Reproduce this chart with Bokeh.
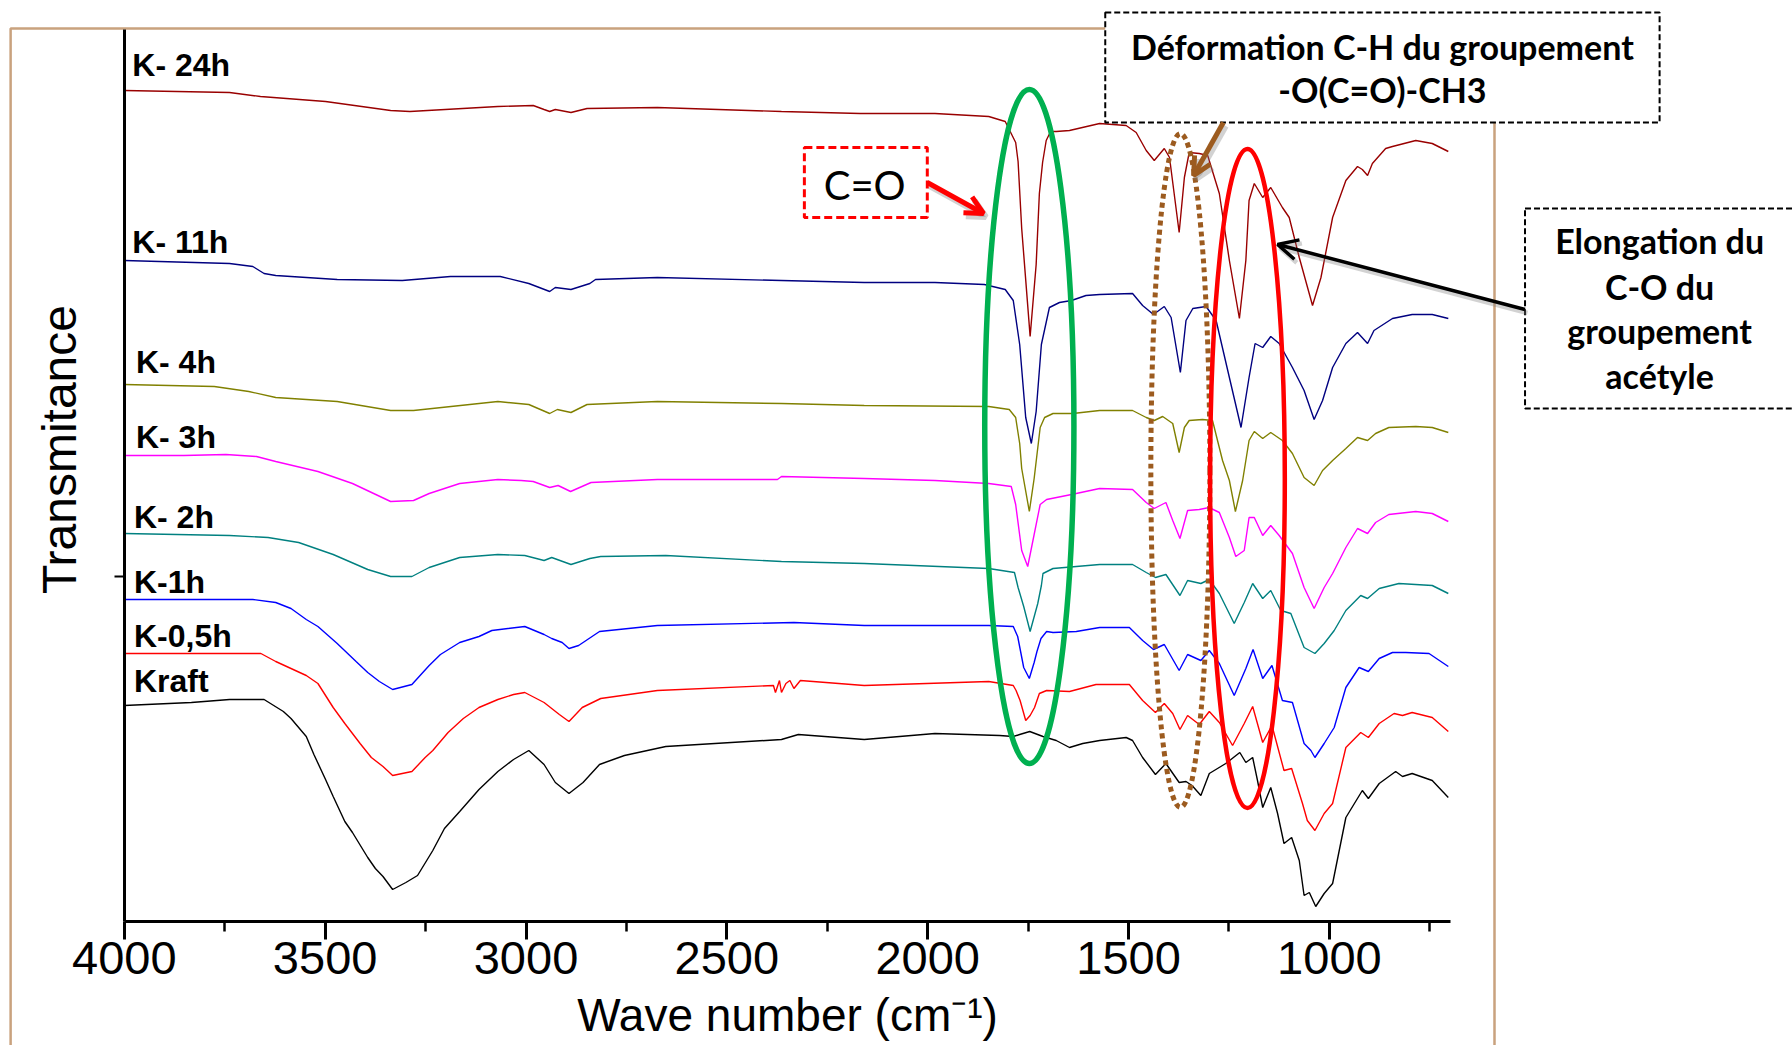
from bokeh.plotting import figure
from bokeh.models import Range1d, LinearAxis, FixedTicker, Arrow, OpenHead
from bokeh.core.properties import value
from bokeh.embed import file_html
from bokeh.resources import INLINE

# ---------------------------------------------------------------------------
# FTIR spectra of kraft paper acetylated for increasing times.
# Wavenumber in cm-1, transmittance in arbitrary units (curves stacked).
# ---------------------------------------------------------------------------
k24h_wn = [4000, 3738, 3661, 3499, 3337, 3289, 3070, 2982, 2955, 2941, 2927, 2888, 2848, 2673, 2364, 2168,
           1982, 1848, 1807, 1781, 1775, 1766, 1745, 1730, 1722, 1714, 1705, 1694, 1680, 1647, 1572, 1506,
           1481, 1456, 1436, 1411, 1398, 1374, 1361, 1349, 1324, 1303, 1274, 1249, 1224, 1208, 1200, 1187,
           1166, 1146, 1117, 1100, 1075, 1042, 1021, 992, 959, 930, 918, 905, 893, 860, 843, 785, 744, 704]
k24h_t = [831, 829, 825, 820, 811, 810, 815, 816, 812, 810, 812, 809, 813, 814, 810, 808,
          808, 805, 800, 779, 760, 693, 585, 657, 728, 759, 781, 790, 790, 791, 798, 796,
          789, 771, 761, 773, 764, 689, 744, 769, 768, 766, 728, 661, 603, 661, 721, 738,
          724, 734, 714, 704, 664, 616, 644, 704, 741, 755, 752, 746, 758, 773, 775, 781, 778, 770]

k11h_wn = [4000, 3738, 3680, 3652, 3623, 3470, 3308, 3188, 3064, 2993, 2941, 2927, 2888, 2841, 2827, 2673,
           2364, 2158, 1982, 1859, 1807, 1787, 1771, 1756, 1742, 1730, 1717, 1697, 1672, 1642, 1606, 1572,
           1490, 1465, 1438, 1411, 1394, 1371, 1357, 1340, 1307, 1282, 1249, 1220, 1200, 1185, 1166, 1146,
           1125, 1092, 1063, 1038, 1017, 992, 959, 930, 905, 889, 843, 794, 744, 704]
k11h_t = [661, 658, 655, 648, 646, 642, 641, 645, 645, 638, 630, 634, 632, 638, 642, 644,
          641, 639, 639, 637, 632, 621, 577, 504, 478, 510, 577, 614, 619, 621, 626, 627,
          628, 616, 607, 615, 604, 549, 601, 613, 615, 601, 544, 494, 544, 578, 574, 585,
          578, 554, 531, 502, 521, 554, 578, 589, 578, 591, 603, 607, 607, 603]

k4h_wn = [4000, 3776, 3690, 3623, 3470, 3337, 3280, 3070, 2993, 2941, 2922, 2888, 2848, 2673, 2364, 2158,
          1848, 1797, 1781, 1771, 1766, 1747, 1735, 1720, 1709, 1688, 1639, 1572, 1490, 1456, 1436, 1415,
          1390, 1374, 1361, 1349, 1316, 1291, 1266, 1249, 1234, 1216, 1200, 1187, 1166, 1146, 1117, 1092,
          1063, 1038, 1017, 992, 959, 930, 905, 885, 852, 785, 744, 704]
k4h_t = [537, 535, 530, 524, 520, 511, 511, 520, 517, 508, 512, 509, 517, 520, 518, 516,
         515, 512, 504, 478, 453, 410, 443, 494, 504, 508, 508, 511, 511, 504, 501, 505,
         498, 469, 494, 501, 502, 501, 461, 441, 410, 441, 481, 490, 483, 489, 481, 468,
         444, 436, 451, 461, 473, 484, 481, 488, 494, 495, 494, 489]

k3h_wn = [4000, 3852, 3747, 3671, 3623, 3518, 3432, 3337, 3280, 3241, 3165, 3070, 3012, 2982, 2941, 2920,
          2889, 2838, 2673, 2374, 2364, 2158, 1982, 1848, 1792, 1781, 1766, 1751, 1735, 1720, 1704, 1642,
          1572, 1490, 1456, 1436, 1407, 1390, 1372, 1353, 1324, 1299, 1274, 1249, 1233, 1212, 1200, 1187,
          1166, 1146, 1125, 1092, 1063, 1038, 1013, 992, 959, 930, 905, 885, 852, 785, 744, 704]
k3h_t = [466, 466, 467, 465, 460, 450, 438, 420, 421, 428, 438, 442, 441, 440, 434, 436,
         430, 439, 442, 442, 445, 443, 441, 438, 435, 417, 371, 355, 387, 417, 422, 427,
         433, 432, 419, 413, 419, 401, 383, 411, 412, 414, 409, 384, 365, 371, 404, 404,
         386, 396, 386, 368, 334, 313, 334, 348, 374, 393, 388, 399, 407, 410, 408, 400]

k2h_wn = [4000, 3738, 3642, 3566, 3480, 3394, 3337, 3284, 3241, 3165, 3070, 3003, 2955, 2936, 2888, 2841,
          2814, 2652, 2364, 2158, 1848, 1784, 1775, 1761, 1745, 1726, 1717, 1713, 1688, 1572, 1490, 1456,
          1433, 1407, 1372, 1353, 1320, 1299, 1274, 1237, 1212, 1191, 1166, 1146, 1121, 1096, 1063, 1036,
          1013, 988, 959, 922, 905, 876, 827, 744, 704]
k2h_t = [388, 386, 384, 379, 367, 352, 345, 345, 354, 364, 367, 366, 361, 364, 357, 363,
         365, 366, 360, 358, 353, 349, 334, 315, 290, 318, 336, 348, 353, 357, 357, 349,
         344, 347, 326, 341, 338, 342, 328, 298, 319, 338, 323, 331, 311, 308, 274, 268,
         278, 291, 311, 326, 323, 333, 338, 336, 328]

k1h_wn = [4000, 3680, 3623, 3585, 3547, 3518, 3470, 3423, 3394, 3365, 3332, 3284, 3241, 3213, 3165, 3117,
          3085, 3003, 2955, 2936, 2910, 2893, 2869, 2817, 2673, 2333, 2158, 1848, 1787, 1776, 1761, 1747,
          1735, 1728, 1718, 1704, 1688, 1630, 1572, 1498, 1465, 1438, 1411, 1374, 1353, 1320, 1299, 1274,
          1237, 1208, 1190, 1166, 1143, 1117, 1092, 1063, 1046, 1036, 1013, 988, 959, 926, 903, 876,
          843, 810, 752, 704]
k1h_t = [322, 322, 319, 313, 302, 295, 278, 260, 249, 240, 232, 237, 256, 267, 279, 285,
         291, 295, 287, 283, 279, 273, 276, 290, 296, 299, 296, 296, 295, 285, 254, 243,
         259, 270, 283, 290, 289, 290, 294, 294, 281, 272, 277, 251, 267, 261, 271, 258,
         226, 253, 272, 243, 256, 221, 219, 178, 171, 164, 178, 194, 234, 254, 250, 263,
         269, 269, 268, 255]

k05h_wn = [4000, 3738, 3660, 3623, 3547, 3518, 3480, 3451, 3413, 3385, 3356, 3332, 3284, 3251, 3232, 3194,
           3156, 3117, 3070, 3031, 3003, 2955, 2917, 2893, 2860, 2814, 2673, 2384, 2379, 2369, 2364, 2353,
           2343, 2333, 2317, 2158, 1848, 1787, 1780, 1770, 1756, 1745, 1734, 1722, 1704, 1647, 1581, 1498,
           1465, 1433, 1411, 1390, 1372, 1353, 1324, 1299, 1274, 1241, 1212, 1191, 1166, 1143, 1113, 1094,
           1067, 1055, 1036, 1013, 992, 959, 922, 903, 876, 839, 818, 794, 744, 704]
k05h_t = [268, 268, 268, 260, 246, 238, 214, 198, 178, 164, 155, 146, 150, 164, 171, 189,
          203, 214, 222, 227, 229, 219, 207, 200, 214, 223, 231, 236, 229, 241, 229, 238,
          241, 233, 241, 236, 240, 236, 231, 221, 201, 206, 214, 228, 231, 230, 237, 237,
          221, 209, 218, 208, 192, 206, 197, 210, 199, 176, 198, 215, 179, 196, 151, 153,
          118, 101, 91, 108, 118, 174, 189, 184, 198, 208, 206, 209, 204, 190]

kraft_wn = [4000, 3833, 3738, 3652, 3604, 3585, 3547, 3528, 3499, 3480, 3451, 3432, 3394, 3375, 3356, 3332,
            3299, 3270, 3232, 3203, 3165, 3117, 3070, 3031, 2993, 2955, 2927, 2893, 2858, 2817, 2755, 2652,
            2364, 2322, 2158, 1982, 1821, 1787, 1771, 1746, 1713, 1680, 1647, 1614, 1572, 1506, 1490, 1465,
            1433, 1407, 1374, 1357, 1342, 1320, 1299, 1258, 1223, 1208, 1191, 1179, 1166, 1146, 1129, 1113,
            1094, 1075, 1063, 1050, 1034, 1013, 992, 984, 959, 918, 903, 876, 835, 818, 794, 744, 704]
kraft_t = [216, 219, 222, 222, 210, 203, 185, 167, 142, 125, 100, 89, 64, 53, 45, 32,
           39, 46, 71, 93, 110, 132, 150, 162, 171, 157, 139, 128, 139, 157, 166, 175,
           182, 187, 182, 188, 186, 185, 187, 190, 185, 181, 174, 178, 181, 184, 181, 164,
           147, 158, 139, 140, 136, 126, 148, 158, 169, 159, 164, 141, 114, 134, 108, 78,
           84, 61, 26, 29, 15, 28, 38, 54, 104, 131, 123, 138, 150, 145, 148, 141, 124]

series_names = ["K- 24h", "K- 11h", "K- 4h", "K- 3h", "K- 2h", "K-1h", "K-0,5h", "Kraft"]
series_wn = [k24h_wn, k11h_wn, k4h_wn, k3h_wn, k2h_wn, k1h_wn, k05h_wn, kraft_wn]
series_t = [k24h_t, k11h_t, k4h_t, k3h_t, k2h_t, k1h_t, k05h_t, kraft_t]
series_colors = ["#990000", "#000080", "#808000", "#FF00FF", "#008080", "#0000FF", "#FF0000", "#000000"]

x_major = [4000, 3500, 3000, 2500, 2000, 1500, 1000]
x_minor = [3750, 3250, 2750, 2250, 1750, 1250, 750]

# curve name tags (anchor at left end of each trace)
tag_x = [3980, 3980, 3971, 3971, 3976, 3976, 3976, 3976]
tag_y = [857, 680, 560, 485, 405, 340, 286, 241]

# ---------------------------------------------------------------------------
SANS = "Liberation Sans"
BOXFONT = "Lato"
TAN = "#C9A27E"
SHADOW = "#7F7F7F"

# horizontal scale: 0.4017 canvas px per cm-1, 4000 cm-1 sits 123.8 px from the left edge
SCALE = 0.4017
LEFT_PAD = 123.8
x_start = 4000 + LEFT_PAD / SCALE
x_end = 4000 - (1792 - LEFT_PAD) / SCALE

p = figure(width=1792, height=1045,
           x_range=Range1d(x_start, x_end), y_range=Range1d(-124, 921),
           output_backend="svg", toolbar_location=None,
           x_axis_location=None, y_axis_location=None,
           min_border=0, outline_line_color=None,
           background_fill_color="white", border_fill_color="white")
p.grid.visible = False

# slide frame
p.line(x=[4283, 4283, 589, 589], y=[-124, 893, 893, -124], line_color=TAN, line_width=2.5)

# spectra
for wn, t, c in zip(series_wn, series_t, series_colors):
    p.line(x=wn, y=t, line_color=c, line_width=1.4)

# curve tags
p.text(x=tag_x, y=tag_y, text=series_names, text_font=value(SANS), text_font_style="bold",
       text_font_size="32px", text_color="black", text_align="left", text_baseline="middle")

# band highlights
p.ellipse(x=[1747], y=[495], width=[222], height=[674], fill_color=None,
          line_color="#00B050", line_width=5.5)
p.ellipse(x=[1371], y=[451], width=[147], height=[675], fill_color=None,
          line_color="#9C5B1F", line_width=5, line_dash="5 4")
p.ellipse(x=[1204], y=[443], width=[186], height=[659], fill_color=None,
          line_color="#FF0000", line_width=4.5)


def callout_arrow(x0, y0, x1, y1, color, width, head):
    """Arrow with a soft drop shadow, as drawn on the slide."""
    dx, dy = -6, -3.5
    p.add_layout(Arrow(end=OpenHead(size=head, line_color=SHADOW, line_alpha=0.35, line_width=width + 1),
                       x_start=x0 + dx, y_start=y0 + dy, x_end=x1 + dx, y_end=y1 + dy,
                       line_color=SHADOW, line_alpha=0.35, line_width=width + 1))
    p.add_layout(Arrow(end=OpenHead(size=head, line_color=color, line_width=width),
                       x_start=x0, y_start=y0, x_end=x1, y_end=y1,
                       line_color=color, line_width=width))


# C=O call-out
p.quad(left=[2307], right=[2001], top=[774], bottom=[704], fill_color="white",
       line_color="#FF0000", line_width=3, line_dash="8 4")
p.text(x=[2157], y=[737], text=["C=O"], text_font=value(BOXFONT), text_font_size="40px",
       text_color="black", text_align="center", text_baseline="middle")
callout_arrow(2001, 739, 1861, 708, "#FF0000", 5, 18)

# acetyl C-H deformation call-out
p.quad(left=[1558], right=[178], top=[909], bottom=[799], fill_color="white",
       line_color="black", line_width=2, line_dash="6 3")
p.text(x=[868, 868], y=[875, 832], text=["Déformation C-H du groupement", "-O(C=O)-CH3"],
       text_font=value(BOXFONT), text_font_style="bold", text_font_size="34px",
       text_color="black", text_align="center", text_baseline="middle")
callout_arrow(1264, 799, 1338, 746, "#9C5B1F", 5, 18)

# acetyl C-O stretching call-out
p.quad(left=[513], right=[-175], top=[713], bottom=[513], fill_color="white",
       line_color="black", line_width=2, line_dash="6 3")
p.text(x=[178, 178, 178, 178], y=[681, 635, 591, 546],
       text=["Elongation du", "C-O du", "groupement", "acétyle"],
       text_font=value(BOXFONT), text_font_style="bold", text_font_size="34px",
       text_color="black", text_align="center", text_baseline="middle")
callout_arrow(513, 612, 1129, 677, "black", 3.5, 20)

# axes
xaxis = LinearAxis(fixed_location=0, bounds=(698, 4000),
                   ticker=FixedTicker(ticks=x_major, minor_ticks=x_minor))
xaxis.axis_line_width = 3
xaxis.major_tick_in = 0
xaxis.major_tick_out = 18
xaxis.major_tick_line_width = 3
xaxis.minor_tick_in = 0
xaxis.minor_tick_out = 10
xaxis.minor_tick_line_width = 2.5
xaxis.major_label_standoff = 2
xaxis.major_label_text_font = SANS
xaxis.major_label_text_font_size = "47px"
xaxis.major_label_text_color = "black"
xaxis.axis_label = "Wave number (cm\u207b\u00b9)"
xaxis.axis_label_text_font = SANS
xaxis.axis_label_text_font_size = "46px"
xaxis.axis_label_text_font_style = "normal"
xaxis.axis_label_text_color = "black"
xaxis.axis_label_standoff = 12
p.add_layout(xaxis, "below")

yaxis = LinearAxis(fixed_location=4000, bounds=(0, 892), ticker=FixedTicker(ticks=[345]))
yaxis.axis_line_width = 3
yaxis.major_tick_in = 0
yaxis.major_tick_out = 10
yaxis.major_tick_line_width = 2
yaxis.minor_tick_line_color = None
yaxis.major_label_text_color = None
yaxis.major_label_text_font_size = "1px"
yaxis.major_label_standoff = 0
p.add_layout(yaxis, "left")

# title of the transmittance axis, centred on the stacked traces
ytitle = LinearAxis(fixed_location=4000, bounds=(52, 892), ticker=FixedTicker(ticks=[]))
ytitle.axis_line_color = None
ytitle.major_tick_out = 10
ytitle.major_tick_in = 0
ytitle.major_tick_line_color = None
ytitle.minor_tick_line_color = None
ytitle.major_label_text_color = None
ytitle.major_label_text_font_size = "1px"
ytitle.major_label_standoff = 0
ytitle.axis_label = "Transmitance"
ytitle.axis_label_text_font = SANS
ytitle.axis_label_text_font_size = "48px"
ytitle.axis_label_text_font_style = "normal"
ytitle.axis_label_text_color = "black"
ytitle.axis_label_standoff = 39
p.add_layout(ytitle, "left")

open("out.html", "w").write(file_html(p, INLINE))
